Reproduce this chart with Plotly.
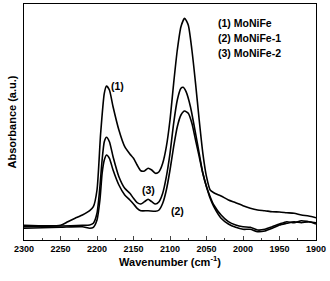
import plotly.graph_objects as go

# MoNiFe (1)
wn_1 = [2300, 2250, 2240, 2230, 2220, 2210, 2205, 2200, 2195, 2190, 2187, 2183, 2178, 2170,
        2162, 2155, 2150, 2145, 2140, 2135, 2130, 2125, 2120, 2115, 2110, 2105, 2100, 2095,
        2090, 2085, 2080, 2075, 2070, 2065, 2060, 2055, 2050, 2045, 2040, 2030, 2020, 2010,
        2000, 1990, 1980, 1970, 1960, 1950, 1940, 1930, 1920, 1910, 1900]
abs_1 = [14.7, 14.7, 18.3, 21.7, 25, 29.3, 33.3, 50, 106.7, 146.7, 154, 150, 133.3, 110,
         93.3, 86, 81.7, 75, 69.3, 69, 71.7, 70, 66.7, 68.3, 76.7, 93.3, 120, 156.7,
         190, 213.3, 221.7, 215, 190, 156.7, 120, 86.7, 63.3, 50, 47.3, 44, 40, 37.3,
         34.3, 31.7, 30, 29.3, 28.3, 28, 27.3, 26.7, 25, 24, 22.3]

# MoNiFe-1 (2)
wn_2 = [2300, 2250, 2220, 2210, 2205, 2200, 2196, 2193, 2190, 2187, 2183, 2178, 2170, 2162,
        2155, 2150, 2145, 2140, 2130, 2120, 2115, 2110, 2105, 2100, 2095, 2090, 2085, 2080,
        2075, 2070, 2065, 2060, 2055, 2050, 2045, 2040, 2030, 2020, 2010, 2000, 1990, 1980,
        1970, 1960, 1950, 1940, 1930, 1920, 1910, 1900]
abs_2 = [11.7, 12.7, 13.3, 11.7, 12.7, 20, 40, 66.7, 80, 85, 81.7, 70, 55, 45,
         40, 36, 31.7, 29.3, 29.3, 28.7, 30, 36.7, 50, 70, 93.3, 113.3, 125, 129,
         126.7, 116.7, 100, 83.3, 66.7, 53.3, 41.7, 33.3, 21.7, 16, 12.7, 10.7, 10.7, 8.3,
         9, 11.7, 15, 16.7, 18.3, 17.3, 18.3, 16]

# MoNiFe-2 (3)
wn_3 = [2300, 2250, 2220, 2210, 2205, 2200, 2196, 2193, 2190, 2187, 2183, 2178, 2170, 2162,
        2155, 2150, 2145, 2140, 2135, 2130, 2125, 2120, 2115, 2110, 2105, 2100, 2095, 2090,
        2085, 2082, 2078, 2072, 2065, 2060, 2055, 2050, 2045, 2040, 2030, 2020, 2010, 2000,
        1990, 1980, 1970, 1960, 1950, 1940, 1930, 1920, 1910, 1900]
abs_3 = [13.3, 14, 14.7, 15, 16.7, 26.7, 53.3, 80, 98.3, 102.7, 98.3, 83.3, 63.3, 51.7,
         46.7, 41.7, 37.3, 36, 38.3, 40.7, 38.3, 36, 38.3, 46.7, 63.3, 86.7, 116.7, 140,
         151.7, 152.7, 148.3, 133.3, 106.7, 86.7, 66.7, 53.3, 43.3, 35, 25, 18.3, 15, 13.3,
         12.7, 10, 10.7, 13.3, 16, 18.3, 17.3, 19.3, 18.3, 17.3]

legend_text = ["(1) MoNiFe", "(2) MoNiFe-1", "(3) MoNiFe-2"]

fig = go.Figure()
for wn, ab in [(wn_1, abs_1), (wn_2, abs_2), (wn_3, abs_3)]:
    fig.add_trace(go.Scatter(x=wn, y=ab, mode="lines",
                             line=dict(color="black", width=1.6, shape="spline", smoothing=0.6),
                             showlegend=False))

# peak labels
for txt, xx, yy in [("(1)", 2172, 154), ("(3)", 2129, 50), ("(2)", 2090, 29)]:
    fig.add_annotation(x=xx, y=yy, text="<b>%s</b>" % txt, showarrow=False,
                       font=dict(family="Liberation Sans", size=10.5, color="black"))
# legend as text
for i, txt in enumerate(legend_text):
    fig.add_annotation(x=2037, y=217 - 15 * i, text="<b>%s</b>" % txt, showarrow=False,
                       xanchor="left", font=dict(family="Liberation Sans", size=10.5, color="black"))

fig.update_layout(
    width=330, height=281,
    margin=dict(l=24, r=14, t=4, b=41),
    paper_bgcolor="white", plot_bgcolor="white",
    font=dict(family="Liberation Sans", color="black"),
    xaxis=dict(range=[2300, 1900], dtick=50, ticks="inside", ticklen=4, tickwidth=1,
               minor=dict(dtick=25, ticks="inside", ticklen=2),
               showline=True, linecolor="black", linewidth=1.2, mirror=True,
               showgrid=False, zeroline=False,
               tickfont=dict(size=9),
               tickprefix="<b>", ticksuffix="</b>",
               title=dict(text="<b>Wavenumber (cm<sup>-1</sup>)</b>", font=dict(size=11), standoff=4)),
    yaxis=dict(range=[0, 236], showticklabels=False, ticks="",
               showline=True, linecolor="black", linewidth=1.2, mirror=True,
               showgrid=False, zeroline=False,
               title=dict(text="<b>Absorbance (a.u.)</b>", font=dict(size=11), standoff=4)),
)

# page body has a default 8px margin; remove it so the figure fills the window
fig.write_html("out.html", config={"displayModeBar": False},
               post_script="document.body.style.margin='0';")
